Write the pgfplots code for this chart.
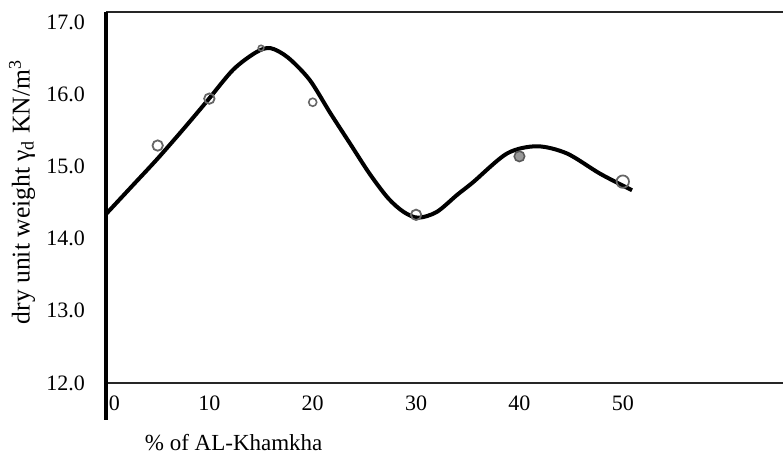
\documentclass[border=0pt]{standalone}
\usepackage{fontspec}
\setmainfont{Liberation Serif}
\usepackage{pgfplots}
\pgfplotsset{compat=1.18}
\begin{document}
\begin{tikzpicture}
\begin{axis}[
  at={(0,0)}, anchor=south west,
  scale only axis,
  width=338.5pt, height=185.5pt,
  xmin=0, xmax=65.5, ymin=12, ymax=17.14,
  axis line style={draw=none},
  major tick length=0pt,
  xtick={0.8,10,20,30,40,50},
  xticklabels={0,10,20,30,40,50},
  ytick={12,13,14,15,16,17},
  /pgf/number format/assume math mode=true,
  yticklabel style={font=\fontsize{11}{13}\selectfont, xshift=-7pt, /pgf/number format/.cd,fixed,fixed zerofill,precision=1},
  xticklabel style={font=\fontsize{11}{13}\selectfont, yshift=-3pt},
  every axis y label/.style={at={(axis description cs:-0.124,0.515)},rotate=90,anchor=center,font=\fontsize{12.8}{15}\selectfont},
  every axis x label/.style={at={(axis description cs:0.047,-0.16)},anchor=west,font=\fontsize{11.5}{13}\selectfont},
  ylabel={dry unit weight γ\textsubscript{d} KN/m\textsuperscript{3}},
  xlabel={\% of AL-Khamkha},
  clip=false,
]
% fitted curve
\addplot[black, line width=2pt, smooth, tension=0.5] coordinates {
 (0,14.34) (2.6,14.74) (5.0,15.11) (7.5,15.52) (9.8,15.91) (12.3,16.34) (14.5,16.58)
 (15.9,16.64) (17.6,16.51) (19.7,16.20) (21.7,15.74) (23.6,15.32)
 (25.5,14.90) (27.3,14.56) (28.8,14.37) (30.2,14.29) (32.0,14.37) (34.0,14.61)
 (35.5,14.78) (38.8,15.18) (41.7,15.28) (44.6,15.18) (47.8,14.90) (50.9,14.67)
};
% measured points
\addplot[only marks, mark=o, mark size=2.6pt, draw=gray!80!black, line width=0.9pt] coordinates {
 (5,15.29) (10,15.94) (30,14.33)
};
\addplot[only marks, mark=o, mark size=3.1pt, draw=gray!80!black, line width=0.9pt] coordinates {
 (50,14.79)
};
\addplot[only marks, mark=o, mark size=1.4pt, draw=gray!80!black, line width=0.8pt] coordinates {
 (15,16.64)
};
\addplot[only marks, mark=o, mark size=2.0pt, draw=gray!80!black, line width=0.8pt] coordinates {
 (20,15.89)
};
\addplot[only marks, mark=*, mark size=2.6pt, draw=gray!70!black, fill=gray!80, line width=0.8pt] coordinates {
 (40,15.14)
};
% frame lines
\draw[black!85, line width=1.1pt] (rel axis cs:0,1) -- (rel axis cs:1,1);
\draw[black!85, line width=1.1pt] (rel axis cs:0,0) -- (rel axis cs:1,0);
\draw[black, line width=2pt] (rel axis cs:0,1) -- (rel axis cs:0,-0.1);
\end{axis}
\pgfresetboundingbox
\path[use as bounding box] (-53pt,-39.5pt) rectangle (338.5pt,191.5pt);
\end{tikzpicture}
\end{document}
